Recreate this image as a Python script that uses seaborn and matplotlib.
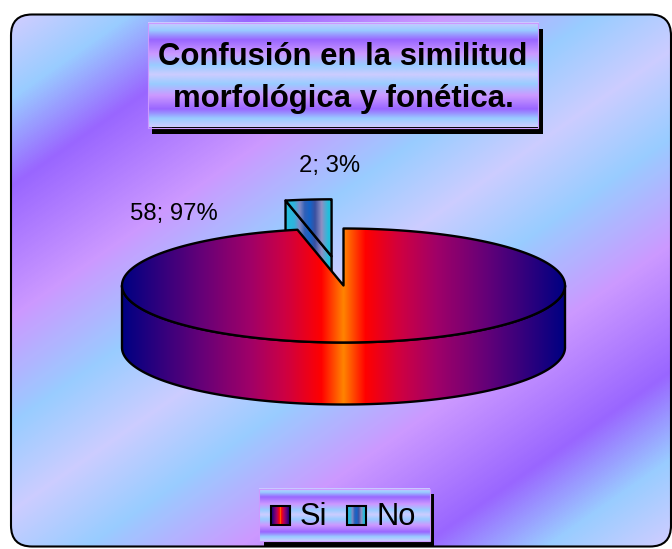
import numpy as np
import matplotlib
matplotlib.use("Agg")
import matplotlib.pyplot as plt
from matplotlib.colors import ListedColormap
from matplotlib.patches import FancyBboxPatch, Polygon, Rectangle
import seaborn as sns

# ---------- data ----------
categories = ["Si", "No"]
values = [58, 2]
title_lines = ["Confusión en la similitud", "morfológica y fonética."]

# ---------- gradient definitions (position, colour) ----------
bg_pos = [0.0, 0.076, 0.166, 0.30, 0.41, 0.50, 0.59, 0.70, 0.83, 0.92, 1.0]
bg_col = ["#CCCCFF", "#99CCFF", "#9966FF", "#CC99FF", "#99CCFF", "#CCCCFF",
          "#99CCFF", "#CC99FF", "#9966FF", "#99CCFF", "#CCCCFF"]
si_pos = [0.0, 0.174, 0.287, 0.366, 0.45, 0.50, 0.55, 0.634, 0.713, 0.826, 1.0]
si_col = ["#000082", "#640078", "#A00068", "#CC0044", "#FF0000", "#FF8200",
          "#FF0000", "#CC0044", "#A00068", "#640078", "#000082"]
no_pos = [0.0, 0.17, 0.29, 0.40, 0.51, 0.62, 0.76, 0.90, 1.0]
no_col = ["#23BEDC", "#2FB4DC", "#8088C4", "#3060B8", "#1464C8", "#3A50A0",
          "#9090C4", "#23BEDC", "#23BEDC"]


def ramp(pos, col, n=512):
    out = []
    for i in range(len(pos) - 1):
        k = max(2, int(round((pos[i + 1] - pos[i]) * n)))
        out.extend(sns.blend_palette([col[i], col[i + 1]], n_colors=k)[:-1])
    out.append(matplotlib.colors.to_rgb(col[-1]))
    return ListedColormap(out)


sns.set_theme(style="white")
plt.rcParams["font.family"] = ["Liberation Sans", "DejaVu Sans"]

fig = plt.figure(figsize=(6.72, 5.49), dpi=100, facecolor="white")
ax = fig.add_axes([0, 0, 1, 1])
ax.set_xlim(0, 672)
ax.set_ylim(549, 0)
ax.axis("off")

BLACK = "#000000"
FRAME_LW = 1.5

# ---------- chart area ----------
frame = FancyBboxPatch((11, 14.5), 660, 532, boxstyle="round,pad=0,rounding_size=21",
                       fc="none", ec=BLACK, lw=FRAME_LW, zorder=3)
ax.add_patch(frame)
xx, yy = np.meshgrid(np.arange(0, 672), np.arange(0, 549))
t = (0.573 * xx + 0.82 * yy - 25) / 800
bg = ax.imshow(t, extent=(0, 672, 549, 0), cmap=ramp(bg_pos, bg_col), vmin=0, vmax=1,
               aspect="auto", zorder=1, interpolation="bilinear")
bg.set_clip_path(frame)
ax.set_xlim(0, 672)
ax.set_ylim(549, 0)


def box(x0, y0, x1, y1, sx, sy):
    ax.add_patch(Rectangle((x0 + sx, y0 + sy), x1 - x0, y1 - y0, fc=BLACK, ec="none", zorder=4))
    im = ax.imshow(np.linspace(0, 1, 256)[:, None], extent=(x0, x1, y1, y0),
                   cmap=ramp(bg_pos, bg_col), vmin=0, vmax=1, aspect="auto", zorder=5)
    ax.add_patch(Rectangle((x0, y0), x1 - x0, y1 - y0, fc="none", ec="#CC99FF", lw=0.8, zorder=6))
    return im


# ---------- title ----------
box(147.5, 23, 538, 127.5, 4.5, 6)
for line, base in zip(title_lines, [65, 107]):
    ax.text(343, base, line, ha="center", va="baseline", fontsize=22.4, fontweight="bold",
            color=BLACK, zorder=7)

# ---------- 3-D pie, geometry derived from the values ----------
cx, cy, rx, ry, depth = 343.5, 285.5, 221.5, 57.0, 62.0
explode = 0.515
total = sum(values)
sweeps = [v / total * 360 for v in values]
si_start, si_end = 0.0, sweeps[0]
no_start, no_end = sweeps[0], sweeps[0] + sweeps[1]
no_mid = np.radians((no_start + no_end) / 2)


def proj(deg, ox=cx, oy=cy, dz=0.0):
    a = np.radians(deg)
    return np.column_stack([ox + rx * np.sin(a), oy - ry * np.cos(a) + dz])


def shaded(poly_xy, cmap, x0, x1, z):
    patch = Polygon(poly_xy, closed=True, fc="none", ec=BLACK, lw=1.7, joinstyle="round", zorder=z + 0.1)
    ax.add_patch(patch)
    im = ax.imshow(np.linspace(0, 1, 512)[None, :], extent=(x0, x1, 549, 0), cmap=cmap,
                   vmin=0, vmax=1, aspect="auto", zorder=z)
    im.set_clip_path(patch)
    return patch


si_map = ramp(si_pos, si_col)
no_map = ramp(no_pos, no_col)
si_x0, si_x1 = cx - rx, cx + rx

# exploded "No" slice (behind the main slice)
nx = cx + explode * rx * np.sin(no_mid)
ny = cy - explode * ry * np.cos(no_mid)
no_arc = proj(np.linspace(no_start, no_end, 30), nx, ny)
no_x0, no_x1 = no_arc[:, 0].min(), no_arc[:, 0].max()
no_apex = np.array([[nx, ny]])
cut = np.vstack([no_arc[0], no_apex, no_apex + [0, depth], no_arc[0] + [0, depth]])
shaded(cut, no_map, no_x0, no_x1, 8)
shaded(np.vstack([no_apex, no_arc]), no_map, no_x0, no_x1, 8.2)

# main "Si" slice
wall_top = proj(np.linspace(90, 270, 200))
wall_bot = proj(np.linspace(270, 90, 200), dz=depth)
shaded(np.vstack([wall_top, wall_bot]), si_map, si_x0, si_x1, 9)
si_arc = proj(np.linspace(si_start, si_end, 400))
shaded(np.vstack([[cx, cy], si_arc]), si_map, si_x0, si_x1, 9.2)

ax.set_xlim(0, 672)
ax.set_ylim(549, 0)

# ---------- data labels ----------
pcts = [round(v / total * 100) for v in values]
labels = [f"{v}; {p}%" for v, p in zip(values, pcts)]
for lab, (lx, ly) in zip(labels, [(173.5, 220), (329.5, 172)]):
    ax.text(lx, ly, lab, ha="center", va="baseline", fontsize=17.2, color=BLACK, zorder=10)

# ---------- legend ----------
box(259, 488.5, 429.5, 541, 4.5, 5.5)
for name, cmap, sx, tx in zip(categories, [si_map, no_map], [271, 347], [299.5, 376.5]):
    ax.imshow(np.linspace(0, 1, 256)[None, :], extent=(sx, sx + 19, 525, 506), cmap=cmap,
              vmin=0, vmax=1, aspect="auto", zorder=7)
    ax.add_patch(Rectangle((sx, 506), 19, 19, fc="none", ec=BLACK, lw=1.5, zorder=8))
    ax.text(tx, 525, name, ha="left", va="baseline", fontsize=22.2, color=BLACK, zorder=8)

ax.set_xlim(0, 672)
ax.set_ylim(549, 0)
fig.savefig("out.png", dpi=100, facecolor="white")
